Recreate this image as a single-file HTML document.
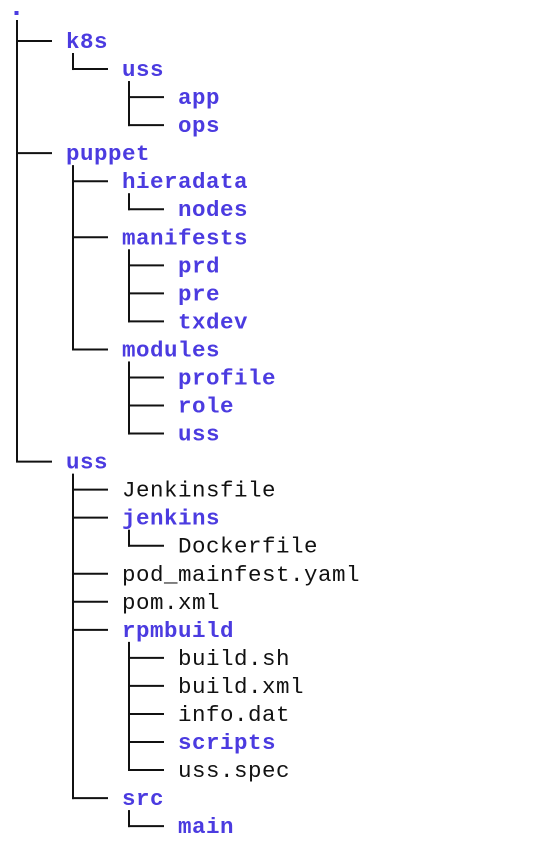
<!DOCTYPE html>
<html><head><meta charset="utf-8"><style>
html,body{margin:0;padding:0;background:#fff;width:550px;height:850px;overflow:hidden}
svg{display:block}
text{font-family:"Liberation Mono",monospace;font-size:22.5px;letter-spacing:0.5px}
.d{fill:#4b3be0;font-weight:bold}
.f{fill:#111}
</style></head><body>
<svg id="s" width="550" height="850" xmlns="http://www.w3.org/2000/svg"></svg>
<script>
var rows=[["k8s",0,1],["uss",1,1],["app",2,1],["ops",2,1],["puppet",0,1],["hieradata",1,1],["nodes",2,1],["manifests",1,1],["prd",2,1],["pre",2,1],["txdev",2,1],["modules",1,1],["profile",2,1],["role",2,1],["uss",2,1],["uss",0,1],["Jenkinsfile",1,0],["jenkins",1,1],["Dockerfile",2,0],["pod_mainfest.yaml",1,0],["pom.xml",1,0],["rpmbuild",1,1],["build.sh",2,0],["build.xml",2,0],["info.dat",2,0],["scripts",2,1],["uss.spec",2,0],["src",1,1],["main",2,1]];
var s="",Y=function(i){return 41+28.04*i};
s+='<rect x="14.5" y="11" width="4" height="4" fill="#4b3be0"/>';
function vx(d){return 17+56*d}
var lastRoot=0;rows.forEach(function(r,i){if(r[1]==0)lastRoot=i});
s+='<line x1="17" y1="20" x2="17" y2="'+Y(lastRoot)+'" stroke="#111" stroke-width="2"/>';
rows.forEach(function(r,i){
 var d=r[1],y=Y(i);
 s+='<line x1="'+(vx(d)-1)+'" y1="'+y+'" x2="'+(vx(d)+35)+'" y2="'+y+'" stroke="#111" stroke-width="2"/>';
 s+='<text class="'+(r[2]?'d':'f')+'" x="'+(66+56*d)+'" y="'+(y+7)+'">'+r[0]+'</text>';
 var last=-1;
 for(var j=i+1;j<rows.length&&rows[j][1]>d;j++){if(rows[j][1]==d+1)last=j}
 if(last>0)s+='<line x1="'+vx(d+1)+'" y1="'+(y+12)+'" x2="'+vx(d+1)+'" y2="'+(Y(last)+1)+'" stroke="#111" stroke-width="2"/>';
});
document.getElementById('s').innerHTML=s;
</script>
</body></html>
